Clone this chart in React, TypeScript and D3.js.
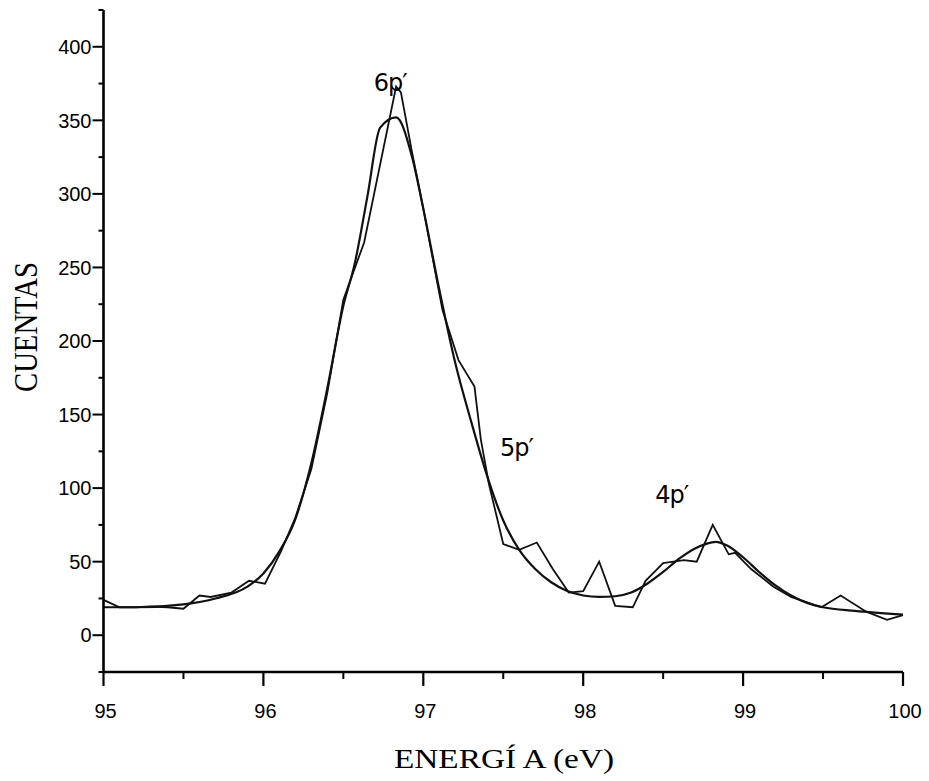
import React from "react";
import * as d3 from "d3";

// Measured spectrum (jagged line)
const dataEnergy = [95.0, 95.1, 95.2, 95.3, 95.4, 95.5, 95.6, 95.67, 95.8, 95.91, 96.01, 96.11, 96.2, 96.3, 96.4, 96.5, 96.63, 96.83, 96.86, 96.93, 97.0, 97.12, 97.22, 97.32, 97.36, 97.41, 97.5, 97.6, 97.71, 97.81, 97.91, 98.0, 98.1, 98.2, 98.31, 98.39, 98.5, 98.63, 98.71, 98.81, 98.91, 98.95, 99.05, 99.19, 99.3, 99.49, 99.61, 99.77, 99.9, 100.0];
const dataCounts = [24, 19, 19, 19.5, 19, 18, 27, 26, 29, 37, 35, 57, 80, 113, 165, 228, 267, 373, 369, 328, 290, 221, 187, 169, 133, 103, 62, 58, 63, 45, 29, 30, 50, 20, 19, 37, 49, 51, 50, 75, 55, 56, 45, 33, 26, 19, 27, 16, 10.5, 13.6];

// Fitted curve (smooth line)
const fitEnergy = [95.0, 95.2, 95.5, 95.7, 95.9, 96.0, 96.1, 96.2, 96.3, 96.4, 96.5, 96.57, 96.65, 96.73, 96.83, 96.93, 97.0, 97.1, 97.2, 97.3, 97.4, 97.5, 97.6, 97.7, 97.8, 97.9, 98.0, 98.1, 98.2, 98.3, 98.4, 98.5, 98.6, 98.7, 98.83, 98.9, 99.0, 99.1, 99.2, 99.3, 99.4, 99.5, 99.7, 100.0];
const fitCounts = [19, 19, 21, 25, 33, 42, 57, 79, 117, 168, 224, 252, 298, 345, 352, 325, 290, 235, 185, 145, 108, 78, 58, 45, 36, 30, 27, 26, 26.5, 29, 35, 43, 52, 59, 63.5, 61, 53, 43, 34, 27, 22, 19, 16.5, 14];

const xMajorTicks = [95, 96, 97, 98, 99, 100];
const xMinorTicks = [95.5, 96.5, 97.5, 98.5, 99.5];
const yMajorTicks = [0, 50, 100, 150, 200, 250, 300, 350, 400];
const yMinorTicks = [-25, 25, 75, 125, 175, 225, 275, 325, 375, 425];

const peakLabels = ["6p′", "5p′", "4p′"];
const peakLabelE = [96.69, 97.48, 98.45];
const peakLabelV = [370, 122, 90];

export default function App() {
  const W = 929, H = 781;
  const x = d3.scaleLinear().domain([95, 100]).range([103.5, 903]);
  const y = d3.scaleLinear().domain([-25, 425]).range([672, 10]);
  const x0 = x(95);
  const yBase = y(-25);

  const dataPts: [number, number][] = dataEnergy.map((e, i) => [e, dataCounts[i]]);
  const fitPts: [number, number][] = fitEnergy.map((e, i) => [e, fitCounts[i]]);
  const lineLin = d3.line<[number, number]>().x(d => x(d[0])).y(d => y(d[1])).curve(d3.curveLinear);
  const lineSmooth = d3.line<[number, number]>().x(d => x(d[0])).y(d => y(d[1])).curve(d3.curveMonotoneX);

  const tickFont = "'Liberation Sans', Arial, sans-serif";
  const serif = "'Liberation Serif', 'Times New Roman', serif";

  return (
    <svg width={W} height={H} viewBox={`0 0 ${W} ${H}`} style={{ position: "absolute", left: 0, top: 0, background: "#fff" }}>
      <rect x={0} y={0} width={W} height={H} fill="#fff" />
      {/* curves */}
      <path d={lineSmooth(fitPts) || ""} fill="none" stroke="#111" strokeWidth={2.2} strokeLinejoin="round" />
      <path d={lineLin(dataPts) || ""} fill="none" stroke="#111" strokeWidth={1.8} strokeLinejoin="miter" />

      {/* axes */}
      <line x1={x0} y1={y(425)} x2={x0} y2={yBase} stroke="#000" strokeWidth={2.6} />
      <line x1={x0} y1={yBase} x2={x(100)} y2={yBase} stroke="#000" strokeWidth={2.6} />
      {yMajorTicks.map(v => (
        <g key={"ym" + v}>
          <line x1={x0 - 11} x2={x0} y1={y(v)} y2={y(v)} stroke="#000" strokeWidth={2} />
          <text x={x0 - 12} y={y(v)} dy="0.36em" textAnchor="end" fontFamily={tickFont} fontSize={20} fill="#000">{v}</text>
        </g>
      ))}
      {yMinorTicks.map(v => (
        <line key={"yn" + v} x1={x0 - 5} x2={x0} y1={y(v)} y2={y(v)} stroke="#000" strokeWidth={2} />
      ))}
      {xMajorTicks.map(v => (
        <g key={"xm" + v}>
          <line x1={x(v)} x2={x(v)} y1={yBase} y2={yBase + 14} stroke="#000" strokeWidth={2.2} />
          <text x={x(v) + 2} y={718} textAnchor="middle" fontFamily={tickFont} fontSize={20} fill="#000">{v}</text>
        </g>
      ))}
      {xMinorTicks.map(v => (
        <line key={"xn" + v} x1={x(v)} x2={x(v)} y1={yBase} y2={yBase + 7} stroke="#000" strokeWidth={2} />
      ))}

      {/* axis titles */}
      <text x={394} y={768} fontFamily={serif} fontSize={27} fill="#000" textLength={220} lengthAdjust="spacingAndGlyphs">ENERGÍ A (eV)</text>
      <text transform={`translate(37,392) rotate(-90)`} fontFamily={serif} fontSize={34} fill="#000" textLength={130} lengthAdjust="spacingAndGlyphs">CUENTAS</text>

      {/* peak labels */}
      {peakLabels.map((t, i) => (
        <text key={t} x={x(peakLabelE[i])} y={y(peakLabelV[i])} fontFamily="'DejaVu Sans', sans-serif" fontSize={24} letterSpacing={-1} fill="#000">{t}</text>
      ))}
    </svg>
  );
}
